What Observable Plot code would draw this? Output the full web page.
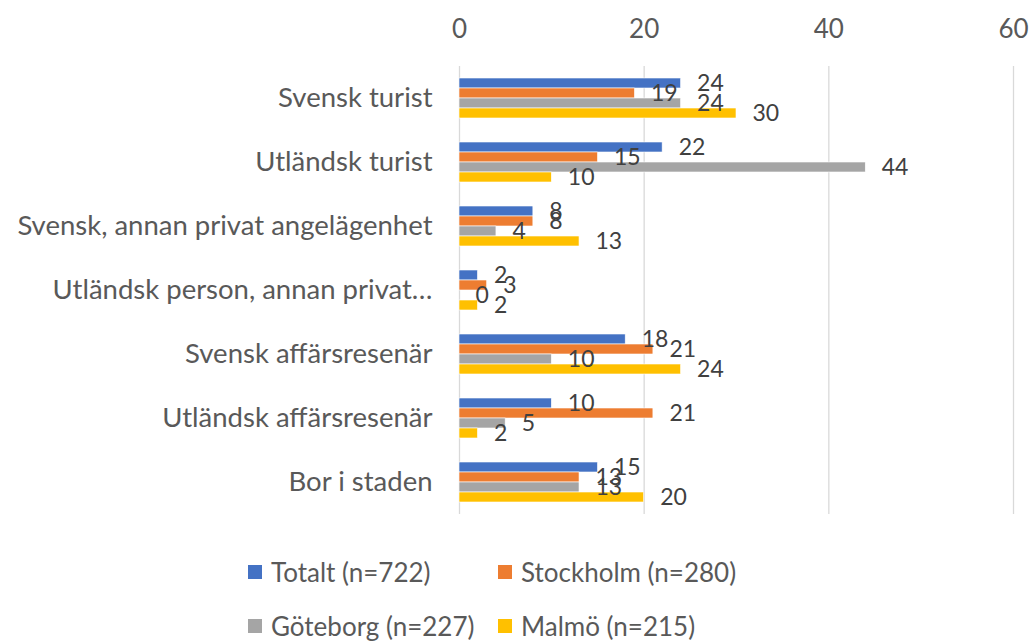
<!DOCTYPE html>
<html>
<head>
<meta charset="utf-8">
<script src="https://cdn.jsdelivr.net/npm/d3@7"></script>
<script src="https://cdn.jsdelivr.net/npm/@observablehq/plot@0.6"></script>
<style>
  body { margin: 0; background: #fff; font-family: Lato, "Open Sans", sans-serif; }
  #chart { position: relative; width: 1033px; height: 642px; }
  #legend { position: absolute; left: 248px; top: 555px; display: grid; grid-template-columns: 250px 250px; row-gap: 20px; }
  .item { display: flex; align-items: center; font-size: 26px; color: #595959; height: 34px; }
  .sw { width: 14px; height: 14px; margin-right: 9px; flex: none; }
</style>
</head>
<body>
<div id="chart"></div>
<script>
const categories = [
  "Svensk turist",
  "Utländsk turist",
  "Svensk, annan privat angelägenhet",
  "Utländsk person, annan privat…",
  "Svensk affärsresenär",
  "Utländsk affärsresenär",
  "Bor i staden"
];
const series = ["Totalt (n=722)", "Stockholm (n=280)", "Göteborg (n=227)", "Malmö (n=215)"];
const totalt    = [24, 22, 8, 2, 18, 10, 15];
const stockholm = [19, 15, 8, 3, 21, 21, 13];
const goteborg  = [24, 44, 4, 0, 10, 5, 13];
const malmo     = [30, 10, 13, 2, 24, 2, 20];
const colors = ["#4472C4", "#ED7D31", "#A5A5A5", "#FFC000"];
const xTicks = [0, 20, 40, 60];

const seriesValues = [totalt, stockholm, goteborg, malmo];
const data = categories.flatMap((c, i) =>
  series.map((s, j) => ({category: c, series: s, value: seriesValues[j][i]}))
);

const plot = Plot.plot({
  width: 1033,
  height: 540,
  marginLeft: 459,
  marginRight: 20,
  marginTop: 65,
  marginBottom: 25,
  style: {fontFamily: "Lato, 'Open Sans', sans-serif", color: "#404040", background: "white"},
  x: {domain: [0, 60], axis: null},
  fy: {domain: categories, padding: 0, axis: null},
  y: {domain: series, paddingInner: 0, paddingOuter: 0.92, axis: null},
  color: {domain: series, range: colors},
  marks: [
    Plot.gridX(xTicks, {stroke: "#d9d9d9", strokeOpacity: 1, strokeWidth: 1.3}),
    Plot.barX(data, {fy: "category", y: "series", x: "value", fill: "series", stroke: "white", strokeWidth: 0.6}),
    Plot.text(data, {fy: "category", y: "series", x: "value", text: d => String(d.value), textAnchor: "start", dx: 16, fill: "#404040", fontSize: 23}),
    Plot.axisX({anchor: "top", ticks: xTicks, tickSize: 0, tickPadding: 29, fontSize: 26, color: "#595959", label: null}),
    Plot.axisFy({anchor: "left", tickSize: 0, tickPadding: 27, fontSize: 27.5, color: "#595959", label: null})
  ]
});
const chart = document.getElementById("chart");
chart.appendChild(plot);

const legend = document.createElement("div");
legend.id = "legend";
series.forEach((s, j) => {
  const it = document.createElement("div");
  it.className = "item";
  const sw = document.createElement("span");
  sw.className = "sw";
  sw.style.background = colors[j];
  it.appendChild(sw);
  it.appendChild(document.createTextNode(s));
  legend.appendChild(it);
});
chart.appendChild(legend);
</script>
</body>
</html>
